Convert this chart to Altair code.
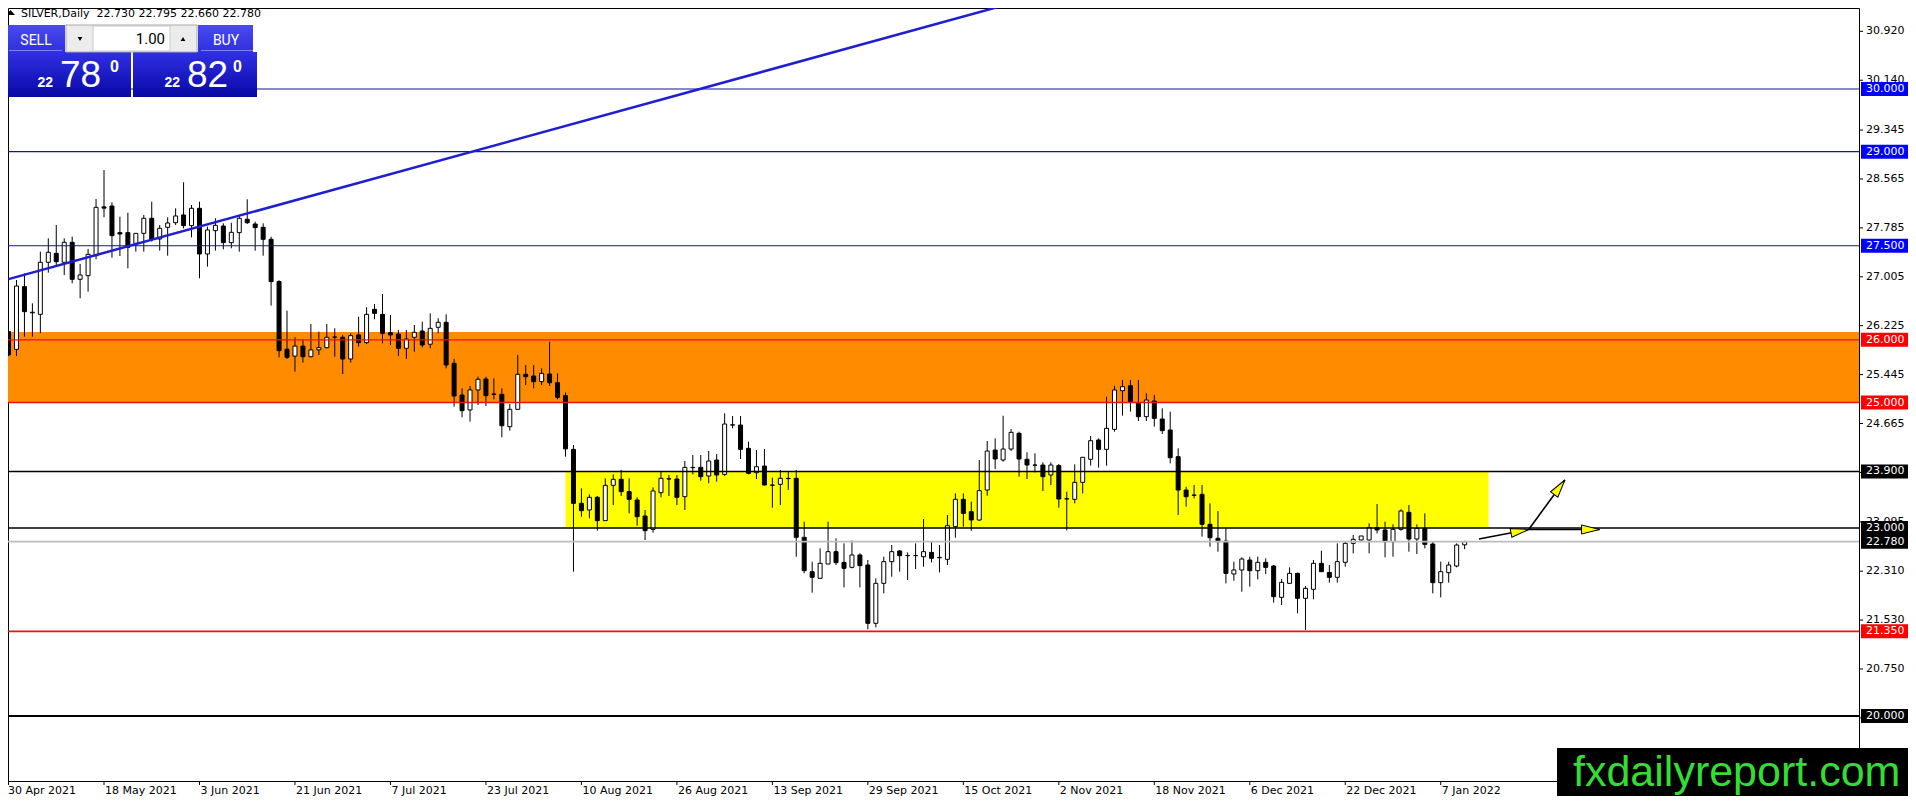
import json
import math
import altair as alt
import pandas as pd

# ---------------- data ----------------
opens = [26.130, 25.848, 26.848, 26.430, 26.407, 27.236, 27.379, 27.236, 27.555, 26.965,
         27.023, 27.342, 28.120, 28.134, 27.709, 27.709, 27.539, 27.698, 27.938, 27.608,
         27.794, 27.868, 27.991, 27.821, 28.097, 27.369, 27.741, 27.815, 27.550, 27.709,
         27.922, 27.847, 27.794, 27.603, 26.930, 25.850, 25.740, 25.900, 25.730, 25.840,
         25.875, 26.040, 26.040, 25.694, 26.077, 25.955, 26.486, 26.406, 26.114, 26.093,
         25.864, 26.040, 26.140, 25.930, 26.200, 26.279, 25.625, 25.120, 24.881, 25.200,
         25.375, 25.130, 25.130, 24.615, 24.891, 25.450, 25.423, 25.333, 25.455, 25.316,
         25.110, 24.253, 23.392, 23.286, 23.488, 23.116, 23.679, 23.775, 23.578, 23.445,
         23.190, 22.977, 23.562, 23.780, 23.780, 23.498, 23.960, 23.966, 23.828, 24.083,
         23.854, 24.640, 24.641, 24.269, 23.880, 23.987, 23.684, 23.695, 23.790, 23.791,
         22.850, 22.302, 22.196, 22.424, 22.621, 22.450, 22.371, 22.568, 22.408, 21.478,
         22.116, 22.462, 22.632, 22.557, 22.557, 22.541, 22.610, 22.530, 22.499, 23.020,
         23.456, 23.259, 23.126, 23.604, 24.242, 24.083, 24.258, 24.508, 24.094, 24.003,
         24.003, 23.844, 23.993, 23.461, 23.456, 23.727, 24.094, 24.402, 24.253, 24.572,
         25.188, 25.268, 24.987, 24.774, 25.024, 24.737, 24.561, 24.136, 23.604, 23.524,
         23.535, 23.057, 22.834, 22.791, 22.265, 22.329, 22.488, 22.318, 22.451, 22.392,
         21.893, 22.116, 22.275, 21.877, 22.020, 22.435, 22.290, 22.212, 22.451, 22.754,
         22.807, 22.807, 23.004, 22.967, 22.780, 22.977, 23.248, 22.823, 22.993, 22.743,
         22.127, 22.286, 22.392, 22.730]
highs = [26.160, 26.954, 27.060, 26.582, 27.406, 27.619, 27.831, 27.619, 27.645, 27.209,
         27.449, 28.246, 28.708, 28.193, 27.964, 28.028, 27.700, 27.991, 28.203, 27.831,
         27.954, 28.097, 28.512, 28.150, 28.203, 27.805, 27.938, 27.858, 27.868, 27.991,
         28.241, 27.884, 27.858, 27.645, 26.950, 26.465, 26.040, 25.997, 26.252, 26.130,
         26.252, 26.183, 26.077, 26.103, 26.369, 26.520, 26.570, 26.731, 26.396, 26.157,
         26.157, 26.236, 26.289, 26.422, 26.343, 26.406, 25.694, 25.226, 25.263, 25.412,
         25.412, 25.386, 25.226, 24.976, 25.758, 25.598, 25.598, 25.545, 25.971, 25.465,
         25.160, 24.322, 23.631, 23.536, 23.509, 23.791, 23.854, 23.924, 23.791, 23.488,
         23.286, 23.647, 23.897, 23.844, 23.844, 24.067, 24.163, 24.163, 24.227, 24.179,
         24.827, 24.785, 24.785, 24.375, 24.243, 24.259, 23.801, 23.924, 23.897, 23.924,
         23.100, 22.462, 22.674, 23.100, 22.834, 22.754, 22.797, 22.595, 22.488, 22.196,
         22.541, 22.727, 22.647, 22.610, 22.754, 23.142, 22.780, 22.727, 23.206, 23.551,
         23.551, 23.418, 24.083, 24.386, 24.428, 24.790, 24.577, 24.535, 24.205, 24.189,
         24.046, 24.046, 24.019, 23.578, 24.014, 24.130, 24.466, 24.428, 25.093, 25.268,
         25.359, 25.359, 25.359, 25.146, 25.120, 24.907, 24.854, 24.269, 23.657, 23.684,
         23.684, 23.392, 23.269, 22.993, 22.462, 22.531, 22.541, 22.541, 22.515, 22.408,
         22.185, 22.371, 22.286, 22.073, 22.488, 22.637, 22.408, 22.754, 22.791, 22.887,
         22.871, 23.073, 23.381, 23.099, 23.057, 23.297, 23.365, 23.057, 23.232, 22.791,
         22.462, 22.462, 22.754, 22.795]
lows = [25.740, 25.742, 26.050, 26.050, 26.104, 27.071, 27.193, 27.034, 26.901, 26.662,
        26.768, 27.284, 27.954, 27.310, 27.337, 27.140, 27.406, 27.406, 27.566, 27.422,
        27.342, 27.831, 27.778, 27.635, 26.981, 27.167, 27.422, 27.443, 27.459, 27.406,
        27.847, 27.422, 27.342, 26.545, 25.721, 25.694, 25.492, 25.636, 25.721, 25.758,
        25.864, 25.731, 25.455, 25.636, 25.891, 25.934, 26.327, 25.944, 25.917, 25.742,
        25.694, 25.811, 25.880, 25.864, 26.103, 25.545, 24.934, 24.764, 24.695, 24.960,
        24.944, 25.050, 24.445, 24.551, 24.881, 25.279, 25.226, 25.279, 25.263, 25.051,
        24.136, 22.302, 23.179, 23.153, 22.956, 23.110, 23.365, 23.509, 23.232, 23.036,
        22.807, 22.924, 23.488, 23.509, 23.365, 23.286, 23.854, 23.753, 23.711, 23.738,
        23.828, 24.588, 24.099, 23.854, 23.780, 23.679, 23.323, 23.365, 23.605, 22.541,
        22.276, 21.967, 22.190, 22.424, 22.408, 22.052, 22.355, 22.052, 21.382, 21.414,
        21.956, 22.222, 22.302, 22.169, 22.344, 22.382, 22.450, 22.291, 22.408, 22.844,
        23.020, 22.955, 23.110, 23.514, 23.939, 24.056, 24.226, 23.817, 23.780, 23.886,
        23.588, 23.684, 23.323, 22.960, 23.392, 23.551, 23.993, 23.961, 23.993, 24.535,
        24.790, 24.854, 24.705, 24.705, 24.615, 24.497, 24.030, 23.206, 23.339, 23.471,
        22.860, 22.701, 22.621, 22.115, 22.158, 21.983, 22.063, 22.180, 22.265, 21.808,
        21.770, 22.105, 21.638, 21.372, 21.861, 22.300, 22.127, 22.127, 22.382, 22.594,
        22.800, 22.594, 22.913, 22.531, 22.541, 22.956, 22.621, 22.584, 22.674, 21.956,
        21.893, 22.127, 22.371, 22.660]
closes = [25.760, 26.858, 26.449, 26.440, 27.236, 27.395, 27.246, 27.555, 26.965, 27.034,
          27.363, 28.113, 28.100, 27.661, 27.688, 27.475, 27.698, 27.938, 27.608, 27.778,
          27.863, 27.975, 27.821, 28.097, 27.369, 27.752, 27.826, 27.550, 27.714, 27.938,
          27.868, 27.789, 27.603, 26.928, 25.827, 25.720, 25.900, 25.730, 25.838, 25.875,
          26.040, 26.045, 25.694, 26.066, 25.955, 26.406, 26.422, 26.103, 26.077, 25.864,
          26.013, 26.120, 25.917, 26.183, 26.279, 25.598, 25.104, 24.870, 25.200, 25.370,
          25.109, 25.135, 24.630, 24.891, 25.450, 25.412, 25.333, 25.465, 25.316, 25.083,
          24.260, 23.392, 23.275, 23.488, 23.116, 23.679, 23.775, 23.578, 23.456, 23.179,
          22.956, 23.589, 23.791, 23.785, 23.488, 23.966, 23.965, 23.817, 24.067, 23.844,
          24.657, 24.645, 24.253, 23.870, 23.976, 23.684, 23.680, 23.791, 23.786, 22.850,
          22.318, 22.212, 22.435, 22.621, 22.446, 22.355, 22.568, 22.398, 21.478, 22.116,
          22.462, 22.621, 22.557, 22.560, 22.560, 22.621, 22.515, 22.525, 23.035, 23.456,
          23.232, 23.126, 23.594, 24.226, 24.099, 24.258, 24.524, 24.099, 24.003, 24.000,
          23.817, 24.003, 23.461, 23.465, 23.727, 24.126, 24.391, 24.253, 24.588, 25.199,
          25.252, 25.013, 24.774, 25.040, 24.747, 24.551, 24.120, 23.604, 23.498, 23.520,
          23.057, 22.844, 22.780, 22.275, 22.329, 22.504, 22.318, 22.451, 22.371, 21.903,
          22.132, 22.275, 21.877, 22.036, 22.435, 22.302, 22.212, 22.462, 22.754, 22.818,
          22.871, 23.004, 22.967, 22.780, 22.977, 23.270, 22.823, 22.993, 22.738, 22.127,
          22.302, 22.408, 22.727, 22.780]

date_labels = ["30 Apr 2021", "18 May 2021", "3 Jun 2021", "21 Jun 2021", "7 Jul 2021",
               "23 Jul 2021", "10 Aug 2021", "26 Aug 2021", "13 Sep 2021", "29 Sep 2021",
               "15 Oct 2021", "2 Nov 2021", "18 Nov 2021", "6 Dec 2021", "22 Dec 2021",
               "7 Jan 2022"]
label_bars = [0, 12, 24, 36, 48, 60, 72, 84, 96, 108, 120, 132, 144, 156, 168, 180]

price_ticks = [30.920, 30.140, 29.345, 28.565, 27.785, 27.005, 26.225, 25.445, 24.665,
               23.885, 23.095, 22.310, 21.530, 20.750, 19.970]

level_values = [30.0, 29.0, 27.5, 26.0, 25.0, 23.9, 23.0, 22.78, 21.35, 20.0]
level_kind = ["target", "target", "target", "zone", "zone", "pivot", "pivot", "bid",
              "support", "floor"]

zone_names = ["supply", "range"]
zone_start = [-5, 70]
zone_end = [240, 186]
zone_low = [25.0, 23.0]
zone_high = [26.125, 23.9]

trend_bar = [0, 130]
trend_price = [26.968, 31.505]

arrow_id = ["a1", "a1", "a2", "a2", "a3", "a3"]
arrow_bar = [184.8, 191.05, 191.05, 195.6, 191.05, 199.96]
arrow_price = [22.823, 22.975, 22.975, 23.764, 22.975, 22.975]

symbol_name = "SILVER,Daily"
bid_price = 22.780
ask_price = 22.820
lot_size = "1.00"
site = "fxdailyreport.com"

# ---------------- geometry / styles ----------------
PX_PER_BAR = 8
PX_PER_UNIT = 62.7
W, H = 1851, 773
X0 = 0.5625
Y_TOP = 31.292
xs = alt.Scale(domain=[X0, X0 + W / PX_PER_BAR], nice=False, zero=False)
ys = alt.Scale(domain=[Y_TOP - H / PX_PER_UNIT, Y_TOP], nice=False, zero=False)

kinds = ["target", "zone", "pivot", "bid", "support", "floor"]
line_colors = ["#141496", "#ee1111", "#000000", "#bdbdbd", "#ee1111", "#000000"]
line_widths = [1.2, 2, 1, 1, 2, 2]
box_colors = ["#0000ff", "#ff0000", "#000000", "#000000", "#ff0000", "#000000"]
zone_fill = ["#ff8c00", "#ffff00"]
FONT = "DejaVu Sans"

bars = pd.DataFrame({"bar": list(range(len(opens))), "open": opens, "high": highs,
                     "low": lows, "close": closes})
bars["dir"] = ["up" if c >= o else "down" for o, c in zip(opens, closes)]

levels = pd.DataFrame({"price": level_values, "kind": level_kind})
zones = pd.DataFrame({"zone": zone_names, "b0": zone_start, "b1": zone_end,
                      "lo": zone_low, "hi": zone_high})
trend = pd.DataFrame({"bar": trend_bar, "price": trend_price})
arrows = pd.DataFrame({"id": arrow_id, "bar": arrow_bar, "price": arrow_price,
                       "seq": [0, 1] * 3})
ticks_df = pd.DataFrame({"price": price_ticks})
dates_df = pd.DataFrame({"bar": label_bars, "label": date_labels})

heads_rows = []
for aid in ["a1", "a2", "a3"]:
    seg = arrows[arrows["id"] == aid].sort_values("seq")
    b0, b1 = seg["bar"].tolist()
    p0, p1 = seg["price"].tolist()
    ang = math.degrees(math.atan2(-(p1 - p0) * PX_PER_UNIT, (b1 - b0) * PX_PER_BAR)) % 360
    heads_rows.append({"bar": b1, "price": p1, "ang": ang})
heads = pd.DataFrame(heads_rows)

NOAX = None

zone_layer = alt.Chart(zones).mark_rect(clip=True).encode(
    x=alt.X("b0:Q", scale=xs, axis=NOAX), x2="b1:Q",
    y=alt.Y("lo:Q", scale=ys, axis=NOAX), y2="hi:Q",
    color=alt.Color("zone:N", scale=alt.Scale(domain=zone_names, range=zone_fill), legend=None),
)

level_layer = alt.Chart(levels).mark_rule(clip=True).encode(
    y=alt.Y("price:Q", scale=ys, axis=NOAX),
    color=alt.Color("kind:N", scale=alt.Scale(domain=kinds, range=line_colors), legend=None),
    strokeWidth=alt.StrokeWidth("kind:N", scale=alt.Scale(domain=kinds, range=line_widths),
                                legend=None),
)

trend_layer = alt.Chart(trend).mark_line(clip=True, color="#1e1ed2", strokeWidth=2.5).encode(
    x=alt.X("bar:Q", scale=xs, axis=NOAX), y=alt.Y("price:Q", scale=ys, axis=NOAX),
)

wick_layer = alt.Chart(bars).mark_rule(clip=True, color="black", strokeWidth=1).encode(
    x=alt.X("bar:Q", scale=xs, axis=NOAX),
    y=alt.Y("low:Q", scale=ys, axis=NOAX), y2="high:Q",
)

body_layer = alt.Chart(bars).mark_bar(clip=True, size=4, stroke="black", strokeWidth=1,
                                      orient="vertical").encode(
    x=alt.X("bar:Q", scale=xs, axis=NOAX),
    y=alt.Y("open:Q", scale=ys, axis=NOAX), y2="close:Q",
    fill=alt.Fill("dir:N", scale=alt.Scale(domain=["up", "down"], range=["white", "black"]),
                  legend=None),
)

arrow_layer = alt.Chart(arrows).mark_line(clip=True, color="black", strokeWidth=1.6).encode(
    x=alt.X("bar:Q", scale=xs, axis=NOAX), y=alt.Y("price:Q", scale=ys, axis=NOAX),
    detail="id:N", order="seq:Q",
)
head_layer = alt.Chart(heads).mark_point(
    clip=True, shape="M0,0L-2,-0.5L-2,0.5Z", size=324, filled=True, fill="#ffff00",
    stroke="black", strokeWidth=1, opacity=1,
).encode(
    x=alt.X("bar:Q", scale=xs, axis=NOAX), y=alt.Y("price:Q", scale=ys, axis=NOAX),
    angle=alt.Angle("ang:Q", scale=None),
)

# ---- price scale (right) and time scale (bottom), drawn through the scales ----
ytick_marks = alt.Chart(ticks_df).mark_rule(color="black", strokeWidth=1).encode(
    x=alt.value(W), x2=alt.value(W + 4), y=alt.Y("price:Q", scale=ys, axis=NOAX),
)
ytick_text = alt.Chart(ticks_df).mark_text(
    align="left", baseline="middle", font=FONT, fontSize=11, color="black",
).encode(
    x=alt.value(W + 7), y=alt.Y("price:Q", scale=ys, axis=NOAX),
    text=alt.Text("price:Q", format=".3f"),
)
xtick_marks = alt.Chart(dates_df).mark_rule(color="black", strokeWidth=1).encode(
    x=alt.X("bar:Q", scale=xs, axis=NOAX), y=alt.value(H), y2=alt.value(H + 4),
)
xtick_text = alt.Chart(dates_df).mark_text(
    align="left", baseline="top", font=FONT, fontSize=11, color="black", dx=1,
).encode(
    x=alt.X("bar:Q", scale=xs, axis=NOAX), y=alt.value(H + 4),
    text="label:N",
)
# the first date label sits at the left edge, flush with the frame
xfirst_text = alt.Chart(dates_df[dates_df["bar"] == 0]).mark_text(
    align="left", baseline="top", font=FONT, fontSize=11, color="black",
).encode(x=alt.value(0), y=alt.value(H + 4), text="label:N")
xtick_text = alt.Chart(dates_df[dates_df["bar"] > 0]).mark_text(
    align="left", baseline="top", font=FONT, fontSize=11, color="black", dx=1,
).encode(
    x=alt.X("bar:Q", scale=xs, axis=NOAX), y=alt.value(H + 4),
    text="label:N",
)

box_layer = alt.Chart(levels).mark_point(
    shape="M-1,-0.2917L1,-0.2917L1,0.2917L-1,0.2917Z", size=2304, filled=True,
    strokeWidth=0, opacity=1, clip=False,
).encode(
    x=alt.value(1877), y=alt.Y("price:Q", scale=ys, axis=NOAX),
    fill=alt.Fill("kind:N", scale=alt.Scale(domain=kinds, range=box_colors), legend=None),
)
box_text = alt.Chart(levels).mark_text(
    align="left", baseline="middle", font=FONT, fontSize=11, color="white", clip=False,
).encode(
    x=alt.value(W + 7), y=alt.Y("price:Q", scale=ys, axis=NOAX),
    text=alt.Text("price:Q", format=".3f"),
)

one = pd.DataFrame({"k": [0]})


def rect(x1, x2, y1, y2, **kw):
    return alt.Chart(one).mark_rect(**kw).encode(
        x=alt.value(x1), x2=alt.value(x2), y=alt.value(y1), y2=alt.value(y2))


def label(x, y, txt, **kw):
    return alt.Chart(one).mark_text(text=txt, **kw).encode(x=alt.value(x), y=alt.value(y))


def glyph(x, y, shape, size, color="black"):
    return alt.Chart(one).mark_point(shape=shape, size=size, filled=True, color=color,
                                     opacity=1, strokeWidth=0).encode(
        x=alt.value(x), y=alt.value(y))


strip_grad = alt.Gradient(gradient="linear",
                          stops=[alt.GradientStop(color="#4a4af0", offset=0),
                                 alt.GradientStop(color="#3030dc", offset=1)],
                          x1=0, y1=0, x2=0, y2=1)
big_grad = alt.Gradient(gradient="linear",
                        stops=[alt.GradientStop(color="#3030e4", offset=0),
                               alt.GradientStop(color="#0808a6", offset=1)],
                        x1=0, y1=0, x2=0, y2=1)

bid_txt = f"{bid_price:.3f}"
ask_txt = f"{ask_price:.3f}"
header_text = (f"{symbol_name}\u00a0 {opens[-1]:.3f} {highs[-1]:.3f} "
               f"{lows[-1]:.3f} {closes[-1]:.3f}")

panel = [
    glyph(2.5, 4.5, "M-1,0.55L1,0.55L0,-0.55Z", 81),
    label(13, 9, header_text, font=FONT, fontSize=11, color="black", align="left",
          baseline="alphabetic"),
    rect(0, 57, 17, 44, fill=strip_grad),
    rect(190, 245, 17, 44, fill=strip_grad),
    rect(0, 123, 44, 89, fill=big_grad),
    rect(125, 249, 44, 89, fill=big_grad),
    rect(1, 54, 42, 43, fill="#8080ff"),
    rect(193, 245, 42, 43, fill="#8080ff"),
    rect(58, 189, 17, 44, fill="#ececec", stroke="#a8a8a8", strokeWidth=1),
    rect(85, 162, 18, 43, fill="white", stroke="#c8c8c8", strokeWidth=1),
    glyph(72, 31, "triangle-down", 22),
    glyph(175, 31, "triangle-up", 22),
    label(157, 36, lot_size, font="Roboto", fontSize=15, color="black", align="right",
          baseline="alphabetic"),
    label(28, 37, "SELL", font="Roboto", fontSize=14, color="white", align="center",
          baseline="alphabetic"),
    label(218, 37, "BUY", font="Roboto", fontSize=14, color="white", align="center",
          baseline="alphabetic"),
    label(45, 79, bid_txt[:2], font="Liberation Sans", fontSize=14, fontWeight="bold",
          color="white", align="right", baseline="alphabetic"),
    label(52, 79, bid_txt[3:5], font="Liberation Sans", fontSize=37, color="white",
          align="left", baseline="alphabetic"),
    label(102, 64, bid_txt[5], font="Liberation Sans", fontSize=16, fontWeight="bold",
          color="white", align="left", baseline="alphabetic"),
    label(172, 79, ask_txt[:2], font="Liberation Sans", fontSize=14, fontWeight="bold",
          color="white", align="right", baseline="alphabetic"),
    label(179, 79, ask_txt[3:5], font="Liberation Sans", fontSize=37, color="white",
          align="left", baseline="alphabetic"),
    label(225, 64, ask_txt[5], font="Liberation Sans", fontSize=16, fontWeight="bold",
          color="white", align="left", baseline="alphabetic"),
    rect(1549, 1900, 740, 788, fill="black"),
    label(1565, 778, site, font="Liberation Sans", fontSize=43, color="#33dd33",
          align="left", baseline="alphabetic"),
]

chart = alt.layer(
    zone_layer, wick_layer, body_layer, level_layer, trend_layer, arrow_layer, head_layer,
    ytick_marks, ytick_text, xtick_marks, xfirst_text, xtick_text,
    box_layer, box_text, *panel,
).resolve_scale(
    color="independent", fill="independent", strokeWidth="independent"
).properties(
    width=W, height=H,
    padding={"left": 0, "top": 0, "right": 49, "bottom": 15},
    autosize=alt.AutoSizeParams(type="none"),
    background="white",
).configure_view(
    stroke="black", strokeWidth=1,
)

chart.save("out.html", embed_options={"renderer": "svg", "actions": False})
